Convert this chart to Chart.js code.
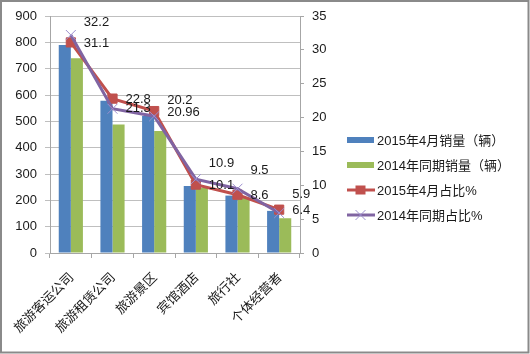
<!DOCTYPE html>
<html><head><meta charset="utf-8">
<script src="https://cdn.jsdelivr.net/npm/chart.js@4.4.0/dist/chart.umd.min.js"></script>
<style>html,body{margin:0;padding:0;background:#fff;}canvas{display:block;}</style>
</head><body>
<canvas id="c" width="530" height="354"></canvas>
<script>
const categories = ['旅游客运公司', '旅游租赁公司', '旅游景区', '宾馆酒店', '旅行社', '个体经营者'];
const sales2015Apr = [790, 578, 520, 254, 218, 160];
const sales2014Same = [740, 488, 463, 248, 210, 132];
const share2015Apr = [31.1, 22.8, 20.96, 10.1, 8.6, 6.4];
const share2014Same = [32.2, 21.3, 20.2, 10.9, 9.5, 5.9];
const seriesNames = ['2015年4月销量（辆）', '2014年同期销量（辆）', '2015年4月占比%', '2014年同期占比%'];
const leftTickValues = [0, 100, 200, 300, 400, 500, 600, 700, 800, 900];
const rightTickValues = [0, 5, 10, 15, 20, 25, 30, 35];

// label placement (style, not data)
const labelDx = 13;
const purpleLabelDy = [-13, 0, -16, -16, -18, -19];

const BLUE = '#4F81BD', GREEN = '#9BBB59', RED = '#C0504D', PURPLE = '#8064A2', XMARK = '#9d8fcf';
const NUMFONT = '13px "Liberation Sans", Arial, sans-serif';
const CJKFONT = '13px "Liberation Sans", "Noto Sans CJK SC", sans-serif';

const bgPlugin = {
  id: 'bg',
  beforeDraw(chart) {
    const ctx = chart.ctx;
    ctx.save();
    ctx.fillStyle = '#fff';
    ctx.fillRect(0, 0, chart.width, chart.height);
    ctx.restore();
  },
  afterDraw(chart) {
    const ctx = chart.ctx;
    ctx.save();
    ctx.strokeStyle = '#8a8a8a';
    ctx.lineWidth = 2;
    ctx.strokeRect(1, 1, chart.width - 2.5, chart.height - 2.5);
    ctx.restore();
  }
};

const labelPlugin = {
  id: 'vlabels',
  afterDatasetsDraw(chart) {
    const ctx = chart.ctx;
    ctx.save();
    ctx.font = NUMFONT;
    ctx.fillStyle = '#1a1a1a';
    ctx.textAlign = 'left';
    ctx.textBaseline = 'middle';
    chart.getDatasetMeta(2).data.forEach((el, j) => {
      ctx.fillText(String(share2015Apr[j]), el.x + labelDx, el.y + 1);
    });
    chart.getDatasetMeta(3).data.forEach((el, j) => {
      ctx.fillText(String(share2014Same[j]), el.x + labelDx, el.y + purpleLabelDy[j]);
    });
    ctx.restore();
  }
};

const legendPlugin = {
  id: 'customLegend',
  afterDraw(chart) {
    const ctx = chart.ctx;
    const x0 = 347, x1 = 374, tx = 377, rows = [140, 165, 190, 215];
    ctx.save();
    ctx.font = CJKFONT;
    ctx.textBaseline = 'middle';
    ctx.textAlign = 'left';
    const ds = chart.data.datasets;
    ctx.fillStyle = ds[0].backgroundColor; ctx.fillRect(x0, rows[0] - 3, x1 - x0, 6);
    ctx.fillStyle = ds[1].backgroundColor; ctx.fillRect(x0, rows[1] - 3, x1 - x0, 6);
    ctx.strokeStyle = ds[2].borderColor; ctx.lineWidth = 3;
    ctx.beginPath(); ctx.moveTo(x0, rows[2]); ctx.lineTo(x1 + 1, rows[2]); ctx.stroke();
    ctx.fillStyle = ds[2].pointBackgroundColor;
    ctx.fillRect((x0 + x1) / 2 - 5, rows[2] - 4.5, 10, 9);
    ctx.strokeStyle = ds[3].borderColor; ctx.lineWidth = 3;
    ctx.beginPath(); ctx.moveTo(x0, rows[3]); ctx.lineTo(x1 + 1, rows[3]); ctx.stroke();
    ctx.strokeStyle = ds[3].pointBorderColor; ctx.lineWidth = 1;
    const cx = (x0 + x1) / 2;
    ctx.beginPath();
    ctx.moveTo(cx - 5, rows[3] - 5); ctx.lineTo(cx + 5, rows[3] + 5);
    ctx.moveTo(cx - 5, rows[3] + 5); ctx.lineTo(cx + 5, rows[3] - 5);
    ctx.stroke();
    ctx.fillStyle = '#1a1a1a';
    seriesNames.forEach((n, i) => ctx.fillText(n, tx, rows[i] + 1));
    ctx.restore();
  }
};

new Chart(document.getElementById('c'), {
  data: {
    labels: categories,
    datasets: [
      { type: 'bar', label: seriesNames[0], data: sales2015Apr, backgroundColor: BLUE, yAxisID: 'y', order: 3,
        categoryPercentage: 0.58, barPercentage: 1.0 },
      { type: 'bar', label: seriesNames[1], data: sales2014Same, backgroundColor: GREEN, yAxisID: 'y', order: 3,
        categoryPercentage: 0.58, barPercentage: 1.0 },
      { type: 'line', label: seriesNames[2], data: share2015Apr, borderColor: RED, borderWidth: 3, yAxisID: 'y1', order: 2,
        tension: 0, fill: false, pointStyle: 'rect', pointRadius: 6.5, pointBackgroundColor: RED, pointBorderColor: RED, pointBorderWidth: 1 },
      { type: 'line', label: seriesNames[3], data: share2014Same, borderColor: PURPLE, borderWidth: 3, yAxisID: 'y1', order: 1,
        tension: 0, fill: false, pointStyle: 'crossRot', pointRadius: 7, pointBorderColor: XMARK, pointBackgroundColor: XMARK, pointBorderWidth: 1 }
    ]
  },
  options: {
    responsive: false,
    animation: false,
    events: [],
    devicePixelRatio: 1,
    layout: { padding: { top: 16, left: 0, right: 0, bottom: 0 } },
    plugins: { legend: { display: false }, tooltip: { enabled: false }, title: { display: false } },
    scales: {
      x: {
        offset: true,
        grid: { display: true, drawOnChartArea: false, drawTicks: true, tickLength: 5, color: '#a6a6a6', offset: true },
        border: { color: '#a6a6a6' },
        ticks: { autoSkip: false, minRotation: 45, maxRotation: 45, padding: 11, color: '#1a1a1a',
          font: { family: '"Noto Sans CJK SC", sans-serif', size: 13 } },
        afterFit(s) { s.height = 101; }
      },
      y: {
        position: 'left', min: 0, max: 900,
        afterBuildTicks(s) { s.ticks = leftTickValues.map(v => ({ value: v })); },
        grid: { color: '#bfbfbf', tickLength: 5, drawTicks: true },
        border: { color: '#a6a6a6' },
        ticks: { padding: 8, color: '#1a1a1a', font: { family: '"Liberation Sans", Arial, sans-serif', size: 13 } },
        afterFit(s) { s.width = 50; }
      },
      y1: {
        position: 'right', min: 0, max: 35,
        afterBuildTicks(s) { s.ticks = rightTickValues.map(v => ({ value: v })); },
        grid: { drawOnChartArea: false, tickLength: 4, drawTicks: true, color: '#a6a6a6' },
        border: { color: '#a6a6a6' },
        ticks: { padding: 8, color: '#1a1a1a', font: { family: '"Liberation Sans", Arial, sans-serif', size: 13 } },
        afterFit(s) { s.width = 230; }
      }
    }
  },
  plugins: [bgPlugin, labelPlugin, legendPlugin]
});
</script>
</body></html>
